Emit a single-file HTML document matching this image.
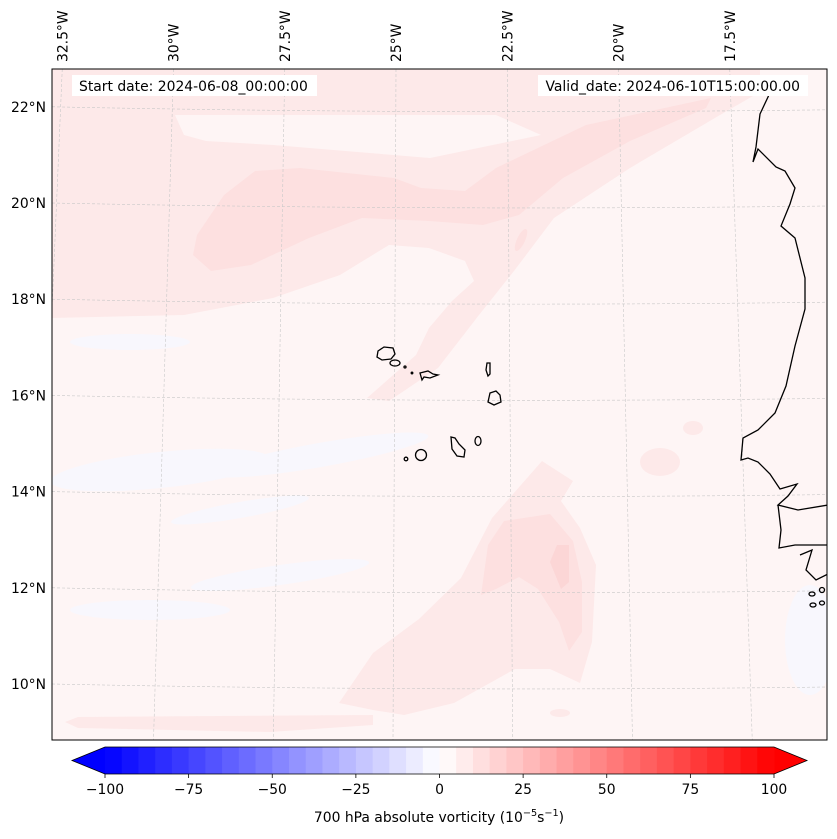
<!DOCTYPE html>
<html><head><meta charset="utf-8"><style>
body{margin:0;background:#fff;}
svg{display:block;font-family:"DejaVu Sans","Liberation Sans",sans-serif;}
</style></head><body>
<svg id="fig" width="837" height="839" viewBox="0 0 837 839" xmlns="http://www.w3.org/2000/svg">
<defs><clipPath id="mapclip"><rect x="52" y="69" width="775" height="671"/></clipPath></defs>
<g clip-path="url(#mapclip)">
  <rect x="52" y="69" width="775" height="671" fill="#fef5f5"/>
  <g fill="#f8f7fd">
    <ellipse cx="160" cy="470" rx="110" ry="18" transform="rotate(-6 160 470)"/>
    <ellipse cx="320" cy="455" rx="110" ry="12" transform="rotate(-10 320 455)"/>
    <ellipse cx="150" cy="610" rx="80" ry="10"/>
    <ellipse cx="280" cy="575" rx="90" ry="10" transform="rotate(-8 280 575)"/>
    <ellipse cx="130" cy="342" rx="60" ry="8"/>
    <ellipse cx="240" cy="510" rx="70" ry="8" transform="rotate(-10 240 510)"/>
    <ellipse cx="810" cy="640" rx="25" ry="55"/>
  </g>
  <g fill="#fde9e9">
    <path d="M52,318 L184,315 L273,298 L340,275 L389,245 L429,248 L465,261 L474,281 L452,301 L429,328 L416,355 L367,398 L389,401 L438,368 L479,315 L514,271 L554,218 L630,168 L720,115 L760,92 L760,69 L52,69 Z"/>
    <path d="M339,703 L373,653 L419,619 L461,578 L492,518 L542,461 L573,481 L561,501 L580,528 L596,565 L592,642 L580,683 L550,669 L515,669 L454,703 L404,715 L373,710 Z"/>
    <path d="M65,722 L78,717 L373,715 L373,725 L270,732 L78,728 Z"/>
    <ellipse cx="560" cy="713" rx="10" ry="4"/>
    <ellipse cx="660" cy="462" rx="20" ry="14"/>
    <ellipse cx="693" cy="428" rx="10" ry="7"/>
  </g>
  <path fill="#fef5f5" d="M175,115 L496,115 L541,135 L430,158 L273,145 L206,141 L184,135 Z"/>
  <g fill="#fde0e0">
    <path d="M193,255 L197,235 L224,195 L255,171 L300,168 L394,178 L421,188 L465,191 L496,168 L586,125 L711,98 L706,108 L630,141 L563,178 L519,215 L483,225 L429,221 L362,218 L309,238 L251,265 L211,271 Z"/>
    <path d="M481,595 L488,545 L504,521 L550,514 L573,541 L582,582 L582,632 L569,651 L559,622 L538,589 L519,577 L496,589 Z"/>
    <ellipse cx="521" cy="240" rx="4" ry="12" transform="rotate(25 521 240)"/>
  </g>
  <path fill="#fcd6d6" d="M550,562 L557,545 L569,545 L569,582 L561,589 Z"/>
  <g id="grid" fill="none" stroke="#c8c8c8" stroke-width="0.6" stroke-dasharray="3,2"></g>
  <g fill="none" stroke="#000" stroke-width="1.3">
    <path d="M772,88 L768,97 L760,114 L756,147 L753,162 L758,149 L776,167 L785,171 L795,188 L790,204 L781,226 L795,238 L805,278 L805,309 L795,346 L786,386 L775,413 L758,430 L743,438 L741,460 L748,458 L758,462 L770,474 L780,489 L797,484 L788,496 L778,505 L798,510 L828,505"/>
    <path d="M778,505 L781,530 L779,548 L795,545 L828,545 M800,555 L812,550 L806,570 L816,580 L828,574"/>
    <g>
      <ellipse cx="812" cy="594" rx="3" ry="2"/><ellipse cx="822" cy="590" rx="2.5" ry="2.5"/>
      <ellipse cx="813" cy="605" rx="3" ry="2"/><ellipse cx="822" cy="603" rx="2.5" ry="2"/>
    </g>
    <path d="M378,351 L384,347 L393,348 L395,354 L391,359 L382,360 L377,357 Z"/>
    <ellipse cx="395" cy="363" rx="5" ry="3"/>
    <circle cx="405" cy="367" r="1"/>
    <circle cx="412" cy="373" r="0.8"/>
    <path d="M420,373 L428,371 L433,374 L438,375 L430,378 L424,377 L422,380 Z"/>
    <path d="M487,363 L490,363 L490,374 L488,376 L486,370 Z"/>
    <path d="M490,393 L496,391 L500,395 L501,402 L494,405 L488,402 Z"/>
    <path d="M451,437 L455,438 L459,444 L465,450 L464,457 L457,456 L452,449 Z"/>
    <ellipse cx="478" cy="441" rx="3" ry="4.5"/>
    <ellipse cx="421" cy="455" rx="5.5" ry="5.5"/>
    <circle cx="406" cy="459" r="1.8"/>
  </g>
  <rect x="72" y="75" width="245" height="21" fill="#fff"/>
  <rect x="538" y="75" width="270" height="21" fill="#fff"/>
</g>
<rect x="52" y="69" width="775" height="671" fill="none" stroke="#000" stroke-width="1"/>
<text x="79" y="91" font-size="13.9">Start date: 2024-06-08_00:00:00</text>
<text x="800" y="91" font-size="13.9" text-anchor="end">Valid_date: 2024-06-10T15:00:00.00</text>
<g id="latlabels" font-size="13.9" text-anchor="end"></g>
<g id="lonlabels" font-size="13.9"></g>
<g id="cbar"></g>
<text x="439" y="822" font-size="13.9" text-anchor="middle">700 hPa absolute vorticity (10<tspan font-size="9.7" dy="-6">−5</tspan><tspan dy="6">s</tspan><tspan font-size="9.7" dy="-6">−1</tspan><tspan dy="6">)</tspan></text>
</svg>
<script>
const latValues = [22, 20, 18, 16, 14, 12, 10];
const lonValues = [32.5, 30, 27.5, 25, 22.5, 20, 17.5];
const cbarLevels = [];
for (let v = -100; v < 100; v += 5) cbarLevels.push(v);
const cbarTicks = [-100, -75, -50, -25, 0, 25, 50, 75, 100];

const NS = 'http://www.w3.org/2000/svg';
function mk(tag, attrs, parent){const e=document.createElementNS(NS,tag);for(const k in attrs)e.setAttribute(k,attrs[k]);parent.appendChild(e);return e;}
function latY(lat){return 203 + (20 - lat) * 48.1;}
function lonTopX(lon){return 396 + (25 - lon) * 44.5;}
function lonBotX(lon){return lonTopX(lon) + (25 - lon) * 3.4 - 3;}
const grid=document.getElementById('grid');
latValues.forEach(lat=>{
  const y=latY(lat);
  const p=mk('path',{d:`M52,${y} Q440,${y+8} 827,${y+3}`},grid);
  
  
  const t=mk('text',{x:46,y:y+5},document.getElementById('latlabels'));
  t.textContent=lat+'°N';
  
  
});
lonValues.forEach(lon=>{
  const xt=lonTopX(lon);
  const p=mk('line',{x1:xt,y1:69,x2:lonBotX(lon),y2:740},grid);
  
  
  const t=mk('text',{x:0,y:0,transform:`translate(${xt+5},62) rotate(-90)`},document.getElementById('lonlabels'));
  t.textContent=lon+'°W';
  
  
});
const cb=document.getElementById('cbar');
const L=105,R=774,T=747,B=774;
function cx(v){return L+(v+100)/200*(R-L);}
function bwr(v){const c=x=>Math.round(x*255);if(v<0){const t=1+v/100;return `rgb(${c(t)},${c(t)},255)`;}const t=1-v/100;return `rgb(255,${c(t)},${c(t)})`;}
const lt=mk('polygon',{points:`${L},${T} ${L},${B} 72,${(T+B)/2}`,fill:bwr(-100)},cb);


const rt=mk('polygon',{points:`${R},${T} ${R},${B} 807,${(T+B)/2}`,fill:bwr(100)},cb);


cbarLevels.forEach(v=>{
  const r=mk('rect',{x:cx(v),y:T,width:cx(v+5)-cx(v)+0.5,height:B-T,fill:bwr(v+2.5)},cb);
  
  
});
const ol=mk('polygon',{points:`72,${(T+B)/2} ${L},${T} ${R},${T} 807,${(T+B)/2} ${R},${B} ${L},${B}`,fill:'none',stroke:'#000','stroke-width':0.8},cb);


cbarTicks.forEach(v=>{
  const x=cx(v);
  const tk=mk('line',{x1:x,y1:B,x2:x,y2:B+4,stroke:'#000','stroke-width':0.8},cb);
  
  
  const t=mk('text',{x:x,y:794,'font-size':13.9,'text-anchor':'middle'},cb);
  t.textContent=(v<0?'−':'')+Math.abs(v);
  
  
});
</script>
</body></html>
